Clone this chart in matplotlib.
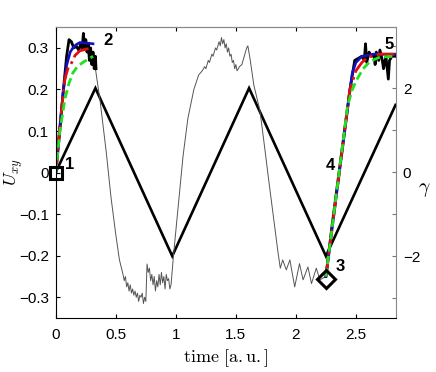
import matplotlib
matplotlib.use("Agg")
import matplotlib.pyplot as plt

plt.rcParams['font.family'] = ['Liberation Sans', 'DejaVu Sans']
plt.rcParams['mathtext.fontset'] = 'cm'

# ---- data ----
# thin response line U_xy(t)
resp_t = [0.0, 0.03, 0.06, 0.09, 0.11, 0.15, 0.2, 0.25, 0.3, 0.33, 0.37, 0.42, 0.46, 0.50, 0.53, 0.56,
          0.57, 0.58, 0.59, 0.60, 0.61, 0.62, 0.63, 0.64, 0.65, 0.66, 0.67, 0.68, 0.69, 0.70, 0.71, 0.72,
          0.73, 0.74, 0.75, 0.76, 0.77, 0.78, 0.79, 0.80, 0.81, 0.82, 0.83, 0.84, 0.85, 0.86, 0.87, 0.88,
          0.89, 0.90, 0.91, 0.92, 0.93, 0.94, 0.95, 0.96,
          0.98, 1.02, 1.06, 1.10, 1.15, 1.19,
          1.22, 1.24, 1.25, 1.27, 1.28, 1.30, 1.31, 1.33, 1.34, 1.36, 1.37, 1.38, 1.39, 1.40, 1.41, 1.42,
          1.43, 1.44, 1.45, 1.46, 1.47, 1.48, 1.49, 1.50, 1.51, 1.52, 1.53, 1.55, 1.57, 1.59, 1.60,
          1.62, 1.65, 1.70, 1.74, 1.77, 1.81, 1.85, 1.87,
          1.89, 1.92, 1.95, 1.99, 2.03, 2.06, 2.10, 2.13, 2.17, 2.20, 2.25]
resp_u = [0.0, 0.09, 0.19, 0.28, 0.32, 0.30, 0.30, 0.31, 0.27, 0.25, 0.17, 0.05, -0.06, -0.15, -0.21, -0.245,
          -0.26, -0.25, -0.275, -0.265, -0.285, -0.27, -0.29, -0.28, -0.295, -0.285, -0.30, -0.29, -0.31, -0.295, -0.30, -0.29,
          -0.315, -0.30, -0.31, -0.22, -0.24, -0.23, -0.26, -0.245, -0.27, -0.25, -0.285, -0.26, -0.275, -0.245, -0.27, -0.24,
          -0.265, -0.25, -0.28, -0.245, -0.26, -0.255, -0.28, -0.27,
          -0.20, -0.08, 0.04, 0.13, 0.20, 0.235,
          0.245, 0.255, 0.25, 0.27, 0.265, 0.285, 0.28, 0.30, 0.295, 0.315, 0.305, 0.325, 0.31, 0.32, 0.30, 0.31,
          0.29, 0.30, 0.28, 0.285, 0.265, 0.27, 0.25, 0.26, 0.245, 0.25, 0.255, 0.26, 0.28, 0.30, 0.305,
          0.27, 0.21, 0.15, 0.06, -0.01, -0.10, -0.19, -0.23,
          -0.21, -0.234, -0.21, -0.275, -0.219, -0.258, -0.227, -0.267, -0.23, -0.258, -0.25]

# thick black noisy segments
blk1_t = [0.0, 0.03, 0.06, 0.09, 0.11, 0.13, 0.15, 0.17, 0.19, 0.21, 0.22, 0.23, 0.24, 0.25, 0.26, 0.27,
          0.28, 0.29, 0.30, 0.31, 0.32, 0.33, 0.335]
blk1_u = [0.0, 0.09, 0.19, 0.28, 0.32, 0.315, 0.30, 0.305, 0.295, 0.31, 0.30, 0.335, 0.30, 0.32, 0.29, 0.31,
          0.27, 0.30, 0.26, 0.29, 0.25, 0.28, 0.25]
blk2_t = [2.25, 2.30, 2.35, 2.40, 2.45, 2.49, 2.52, 2.55, 2.57, 2.58, 2.59, 2.61, 2.63, 2.65, 2.66, 2.67,
          2.69, 2.70, 2.72, 2.73, 2.75, 2.77, 2.78, 2.80, 2.83]
blk2_u = [-0.25, -0.13, -0.02, 0.09, 0.20, 0.27, 0.275, 0.28, 0.27, 0.31, 0.265, 0.29, 0.28, 0.285, 0.26, 0.29,
          0.27, 0.295, 0.27, 0.25, 0.28, 0.225, 0.27, 0.28, 0.28]

# model curves, pulse 1 (1 -> 2) and pulse 2 (3 -> 5)
blue1_t = [0.0, 0.03, 0.06, 0.09, 0.12, 0.142, 0.17, 0.2, 0.25, 0.31]
blue1_u = [0.0, 0.10, 0.19, 0.258, 0.29, 0.30, 0.308, 0.313, 0.312, 0.31]
red1_t = [0.0, 0.03, 0.075, 0.10, 0.133, 0.16, 0.2, 0.25, 0.31]
red1_u = [0.0, 0.10, 0.224, 0.25, 0.265, 0.282, 0.293, 0.297, 0.30]
green1_t = [0.0, 0.033, 0.075, 0.11, 0.142, 0.18, 0.225, 0.27, 0.31]
green1_u = [0.0, 0.097, 0.176, 0.215, 0.24, 0.255, 0.265, 0.273, 0.28]

blue2_t = [2.25, 2.47, 2.50, 2.55, 2.65, 2.83]
blue2_u = [-0.25, 0.24, 0.265, 0.28, 0.285, 0.285]
red2_t = [2.25, 2.45, 2.50, 2.55, 2.60, 2.70, 2.83]
red2_u = [-0.25, 0.20, 0.245, 0.265, 0.278, 0.285, 0.285]
green2_t = [2.25, 2.43, 2.47, 2.51, 2.56, 2.62, 2.70, 2.83]
green2_u = [-0.25, 0.16, 0.20, 0.225, 0.25, 0.268, 0.278, 0.28]

# strain gamma(t): triangle wave (right axis)
tri_t = [0.0, 0.33, 0.97, 1.61, 2.25, 2.83]
tri_g = [0.0, 2.0, -2.0, 2.0, -2.0, 1.6]

# markers and labels
sq_pt = (0.0, 0.0)
dia_pt = (2.25, -0.255)
labels = ['1', '2', '3', '4', '5']
label_t = [0.117, 0.433, 2.367, 2.29, 2.78]
label_u = [0.02, 0.318, -0.227, 0.016, 0.308]

left_ticks = [-0.3, -0.2, -0.1, 0.0, 0.1, 0.2, 0.3]
left_ticklabels = ['\u22120.3', '\u22120.2', '\u22120.1', '0', '0.1', '0.2', '0.3']
x_ticks = [0, 0.5, 1, 1.5, 2, 2.5]
x_ticklabels = ['0', '0.5', '1', '1.5', '2', '2.5']
right_ticks = [-3, -2, -1, 0, 1, 2, 3]
right_ticklabels = ['', '\u22122', '', '0', '', '2', '']

# ---- figure ----
fig = plt.figure(figsize=(4.36, 3.72), dpi=100)
ax = fig.add_axes([0.128, 0.145, 0.78, 0.782])
ax2 = ax.twinx()
ax.set_zorder(ax2.get_zorder() + 1)
ax.patch.set_visible(False)

ax2.plot(tri_t, tri_g, color='black', lw=1.9, solid_joinstyle='miter')
ax2.set_ylim(-3.476, 3.452)
ax2.set_yticks(right_ticks)
ax2.set_yticklabels(right_ticklabels, fontsize=11)
ax2.tick_params(axis='y', direction='in', length=3, color='#777777', pad=5)

ax.plot(resp_t, resp_u, color='#555555', lw=0.7)
ax.plot(blk1_t, blk1_u, color='black', lw=2.0)
ax.plot(blk2_t, blk2_u, color='black', lw=2.0)
ax.plot(blue1_t, blue1_u, color='#1010c0', lw=1.9)
ax.plot(blue2_t, blue2_u, color='#1010c0', lw=1.9)
ax.plot(red1_t, red1_u, color='#e01010', lw=2.0, ls='-.')
ax.plot(red2_t, red2_u, color='#e01010', lw=2.0, ls='-.')
ax.plot(green1_t, green1_u, color='#20e020', lw=2.0, ls=(0, (3, 1.5)))
ax.plot(green2_t, green2_u, color='#20e020', lw=2.0, ls=(0, (3, 1.5)))

ax.plot([sq_pt[0]], [sq_pt[1]], marker='s', ms=9, mfc='none', mec='black', mew=2.2, clip_on=False, zorder=5)
ax.plot([dia_pt[0]], [dia_pt[1]], marker='D', ms=9, mfc='none', mec='black', mew=2.2, clip_on=False, zorder=5)

for s, tx, ty in zip(labels, label_t, label_u):
    ax.text(tx, ty, s, fontsize=12, fontweight='bold', ha='center', va='center', clip_on=False, zorder=6)

ax.set_xlim(0, 2.833)
ax.set_ylim(-0.35, 0.35)
ax.set_xticks(x_ticks)
ax.set_xticklabels(x_ticklabels, fontsize=11)
ax.set_yticks(left_ticks)
ax.set_yticklabels(left_ticklabels, fontsize=11)
ax.tick_params(axis='y', direction='in', length=3, pad=5)
ax.tick_params(axis='x', direction='in', length=3, pad=7, top=True)

for a in (ax, ax2):
    a.spines['top'].set_color('#888888')
    a.spines['right'].set_color('#888888')
    a.spines['left'].set_color('black')
    a.spines['bottom'].set_color('black')
ax2.spines['left'].set_visible(False)
ax2.spines['bottom'].set_visible(False)
ax.spines['right'].set_visible(False)

ax.set_xlabel(r'$\mathrm{time\ [a.u.]}$', fontsize=13)
ax.xaxis.set_label_coords(0.5, -0.1)
ax.set_ylabel(r'$U_{xy}$', fontsize=13)
ax.yaxis.set_label_coords(-0.09, 0.5)
ax2.set_ylabel(r'$\gamma$', fontsize=14, rotation=0)
ax2.yaxis.set_label_coords(1.085, 0.47)

fig.savefig('out.png', dpi=100)
